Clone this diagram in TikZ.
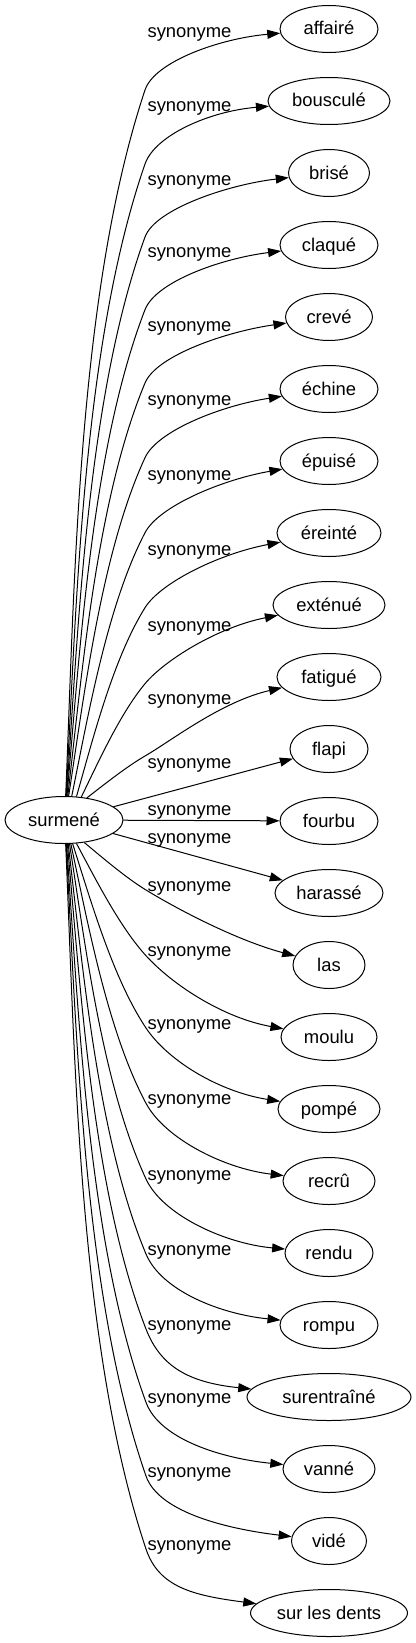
\documentclass[tikz,border=0pt]{standalone}
\usepackage{fontspec}
\setmainfont{Liberation Sans}
\usetikzlibrary{shapes.geometric,arrows.meta,calc}
\begin{document}
\begin{tikzpicture}[x=1pt,y=-1pt,
  every node/.style={font=\fontsize{18.4}{22}\selectfont},
  word/.style={ellipse, draw, line width=1pt, minimum height=47pt, inner sep=0pt, text height=13pt, text depth=1pt},
  rel/.style={anchor=base, inner sep=0pt},
  edge/.style={draw, line width=1pt, -{Triangle[length=13pt,width=9pt]}}]
\useasboundingbox (0,0) rectangle (415,1643);
% source
\node[word, minimum width=118pt] (src) at (64,820) {surmené};
% targets
\foreach \nm/\txt/\wid/\yy in {
  affaire/affairé/98/29, bouscule/bousculé/122/101, brise/brisé/81/173,
  claque/claqué/98/245, creve/crevé/87/317, echine/échine/98/389,
  epuise/épuisé/98/461, ereinte/éreinté/104/533, extenue/exténué/112/605,
  fatigue/fatigué/104/677, flapi/flapi/78/749, fourbu/fourbu/98/821,
  harasse/harassé/108/893, las/las/72/965, moulu/moulu/96/1037,
  pompe/pompé/102/1109, recru/recrû/92/1181, rendu/rendu/88/1253,
  rompu/rompu/98/1325, surentraine/surentraîné/164/1397, vanne/vanné/92/1469,
  vide/vidé/75/1541, surlesdents/sur les dents/157/1613}
  {\node[word, minimum width=\wid pt] (\nm) at (329,\yy) {\txt};}
% edge labels
\foreach \lab [count=\i] in {33,107,180,252.7,326,400.7,475.7,550.7,626.7,699,763,810,838,886,951.7,1024,1099.3,1175,1250,1325,1398.3,1472,1545}
  {\node[rel] (lab\i) at (189.5,\lab+5) {synonyme};}
% upper curved edges
\foreach \nm/\lab/\anc/\ph in {affaire/33/86/9, bouscule/107/85/10, brise/180/84/11,
  claque/252.7/83/13, creve/326/81/14, echine/400.7/79/16, epuise/475.7/72/18,
  ereinte/550.7/62/20, extenue/626.7/53/22, fatigue/699/44/24}{
  \pgfmathsetmacro\ca{cos(\anc)}
  \pgfmathsetmacro\sa{sin(\anc)}
  \pgfmathsetmacro\rr{1/sqrt((\ca/59)^2+(\sa/24)^2)}
  \pgfmathsetmacro\Sx{64+\rr*\ca}
  \pgfmathsetmacro\Sy{820-\rr*\sa}
  \pgfmathsetmacro\Py{\lab+57}
  \pgfmathsetmacro\ch{atan2(\Sy-\Py,145-\Sx)}
  \pgfmathsetmacro\len{10*sqrt(((145-\Sx)/10)^2+((\Sy-\Py)/10)^2)}
  \pgfmathsetmacro\kk{min(1,\len/150)}
  \pgfmathsetmacro\hh{0.3*\len}
  \pgfmathsetmacro\al{\ch+4*\kk}
  \pgfmathsetmacro\th{\ch-12*\kk}
  \pgfmathsetmacro\cAx{\Sx+\hh*cos(\al)}
  \pgfmathsetmacro\cAy{\Sy-\hh*sin(\al)}
  \pgfmathsetmacro\cBx{145-\hh*cos(\th)}
  \pgfmathsetmacro\cBy{\Py+\hh*sin(\th)}
  \pgfmathsetmacro\cCx{145+30*cos(\th)}
  \pgfmathsetmacro\cCy{\Py-30*sin(\th)}
  \pgfmathsetmacro\ddx{-60*cos(\ph)}
  \pgfmathsetmacro\ddy{60*sin(\ph)}
  \draw[edge] (src.\anc) .. controls (\cAx,\cAy) and (\cBx,\cBy) .. (145,\Py)
     .. controls (\cCx,\cCy) and ($(\nm.west)+(\ddx,\ddy)$) .. (\nm);
}
% straight edges
\draw[edge] (src) -- (flapi);
\draw[edge] (src) -- (fourbu);
\draw[edge] (src) -- (harasse);
% lower curved edges
\foreach \nm/\lab/\anc/\ph in {las/886/-48/24, moulu/951.7/-62/18.5, pompe/1024/-70/16.5,
  recru/1099.3/-74/12, rendu/1175/-77/9, rompu/1250/-80/10.5, surentraine/1325/-82/14,
  vanne/1398.3/-84/10, vide/1472/-85/11, surlesdents/1545/-86/17}{
  \pgfmathsetmacro\ca{cos(\anc)}
  \pgfmathsetmacro\sa{sin(\anc)}
  \pgfmathsetmacro\rr{1/sqrt((\ca/59)^2+(\sa/24)^2)}
  \pgfmathsetmacro\Sx{64+\rr*\ca}
  \pgfmathsetmacro\Sy{820-\rr*\sa}
  \pgfmathsetmacro\Py{\lab+4}
  \pgfmathsetmacro\ch{atan2(\Py-\Sy,146-\Sx)}
  \pgfmathsetmacro\len{10*sqrt(((146-\Sx)/10)^2+((\Py-\Sy)/10)^2)}
  \pgfmathsetmacro\kk{min(1,\len/150)}
  \pgfmathsetmacro\hh{0.3*\len}
  \pgfmathsetmacro\al{\ch+4*\kk}
  \pgfmathsetmacro\th{\ch-12*\kk}
  \pgfmathsetmacro\cAx{\Sx+\hh*cos(\al)}
  \pgfmathsetmacro\cAy{\Sy+\hh*sin(\al)}
  \pgfmathsetmacro\cBx{146-\hh*cos(\th)}
  \pgfmathsetmacro\cBy{\Py-\hh*sin(\th)}
  \pgfmathsetmacro\cCx{146+40*cos(\th)}
  \pgfmathsetmacro\cCy{\Py+40*sin(\th)}
  \pgfmathsetmacro\ddx{-60*cos(\ph)}
  \pgfmathsetmacro\ddy{-60*sin(\ph)}
  \draw[edge] (src.\anc) .. controls (\cAx,\cAy) and (\cBx,\cBy) .. (146,\Py)
     .. controls (\cCx,\cCy) and ($(\nm.west)+(\ddx,\ddy)$) .. (\nm);
}
\end{tikzpicture}
\end{document}
